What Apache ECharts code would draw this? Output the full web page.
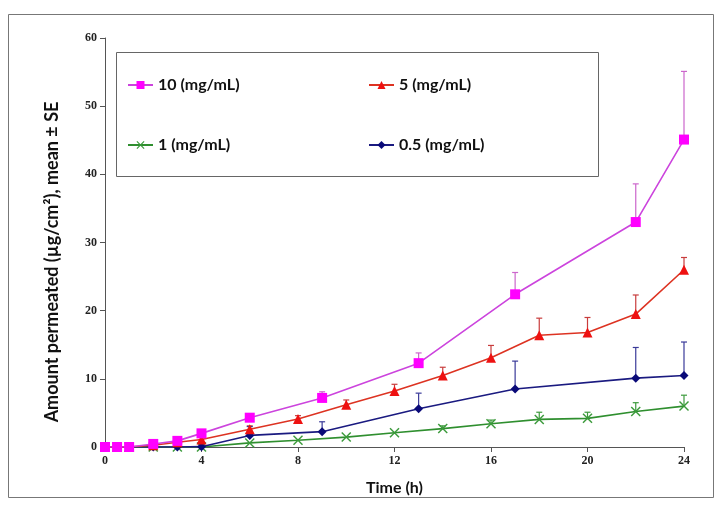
<!DOCTYPE html>
<html><head><meta charset="utf-8">
<script src="https://cdn.jsdelivr.net/npm/echarts@6/dist/echarts.min.js"></script>
<style>html,body{margin:0;padding:0;background:#fff}#c{width:719px;height:509px}</style>
</head><body><div id="c"></div>
<script>
// ---- data ----
const xA = [0, 0.5, 1, 2, 3, 4, 6, 9, 13, 17, 22, 24];
const xB = [0, 0.5, 1, 2, 3, 4, 6, 8, 10, 12, 14, 16, 18, 20, 22, 24];
const y10 = [0, 0, 0, 0.45, 0.9, 2.0, 4.3, 7.2, 12.3, 22.4, 33.0, 45.1];
const e10 = [null, null, null, null, null, null, 4.8, 8.1, 13.8, 25.6, 38.6, 55.1];
const y5 = [0, 0, 0, 0.25, 0.7, 1.1, 2.6, 4.1, 6.2, 8.2, 10.5, 13.1, 16.4, 16.8, 19.5, 26.0];
const e5 = [null, null, null, null, null, null, 3.1, 4.6, 6.9, 9.2, 11.7, 14.9, 18.9, 19.0, 22.3, 27.8];
const y1 = [0, 0, 0, 0, 0, 0, 0.6, 1.0, 1.45, 2.1, 2.7, 3.4, 4.05, 4.2, 5.2, 6.0];
const e1 = [null, null, null, null, null, null, null, null, null, null, 3.1, 3.95, 5.1, 5.1, 6.5, 7.6];
const y05 = [0, 0, 0, 0, 0, 0.05, 1.7, 2.25, 5.6, 8.5, 10.1, 10.5];
const e05 = [null, null, null, null, null, null, 3.0, 3.7, 7.9, 12.6, 14.6, 15.4];
const names = ['10 (mg/mL)', '5 (mg/mL)', '1 (mg/mL)', '0.5 (mg/mL)'];
const xTicks = [0, 4, 8, 12, 16, 20, 24];
const yTicks = [0, 10, 20, 30, 40, 50, 60];
const xTitle = 'Time (h)';
const yTitle = 'Amount permeated (µg/cm²), mean ± SE';

const pairs = (xs, ys) => xs.map((x, i) => [x, ys[i]]);
const errs = (xs, ys, es) => xs.map((x, i) => es[i] == null ? null : [x, ys[i], es[i]]).filter(d => d);

function errSeries(data, color) {
  return {
    type: 'custom', silent: true, z: 1,
    data: data,
    renderItem: function (params, api) {
      const p0 = api.coord([api.value(0), api.value(1)]);
      const p1 = api.coord([api.value(0), api.value(2)]);
      return {
        type: 'group', children: [
          { type: 'line', shape: { x1: p0[0], y1: p0[1], x2: p1[0], y2: p1[1] }, style: { stroke: color, lineWidth: 1.2 } },
          { type: 'line', shape: { x1: p1[0] - 3, y1: p1[1], x2: p1[0] + 3, y2: p1[1] }, style: { stroke: color, lineWidth: 1.2 } }
        ]
      };
    }
  };
}

const crossPath = 'path://M0,1L1,0L5,4L9,0L10,1L6,5L10,9L9,10L5,6L1,10L0,9L4,5Z';

const chart = echarts.init(document.getElementById('c'), null, { renderer: 'canvas' });
const tickFont = { fontFamily: 'Liberation Serif', fontWeight: 'bold', fontSize: 12, color: '#222' };
const legendText = { fontFamily: 'Lato', fontWeight: 'bold', fontSize: 16, color: '#111' };

chart.setOption({
  animation: false,
  backgroundColor: '#fff',
  graphic: [
    { type: 'rect', shape: { x: 8.5, y: 14.5, width: 705, height: 483 }, style: { fill: 'none', stroke: '#777', lineWidth: 1 }, z: -1 },
    { type: 'rect', shape: { x: 116.5, y: 52.5, width: 482, height: 124 }, style: { fill: '#fff', stroke: '#666', lineWidth: 1 }, z: 0 },
    { type: 'text', x: 52, y: 262, rotation: Math.PI / 2, z: 5,
      style: { text: yTitle, fontFamily: 'Lato', fontWeight: 'bold', fontSize: 18, fill: '#111', align: 'center', verticalAlign: 'middle' } }
  ],
  grid: { left: 105, right: 35, top: 38, bottom: 62 },
  legend: [
    { data: [names[0], names[2]], orient: 'vertical', left: 122, top: 72, itemGap: 44, itemWidth: 25, itemHeight: 10, textStyle: legendText, z: 10 },
    { data: [names[1], names[3]], orient: 'vertical', left: 363, top: 72, itemGap: 44, itemWidth: 25, itemHeight: 10, textStyle: legendText, z: 10 }
  ],
  xAxis: {
    type: 'value', min: 0, max: 24, interval: 4,
    name: xTitle, nameLocation: 'middle', nameGap: 33,
    nameTextStyle: { fontFamily: 'Lato', fontWeight: 'bold', fontSize: 16, color: '#111' },
    axisLine: { lineStyle: { color: '#555', width: 1 } },
    axisTick: { show: true, length: 5, lineStyle: { color: '#555' } },
    splitLine: { show: false },
    axisLabel: Object.assign({ margin: 8, formatter: v => xTicks.includes(v) ? String(v) : '' }, tickFont)
  },
  yAxis: {
    type: 'value', min: 0, max: 60, interval: 10,
    axisLine: { show: true, lineStyle: { color: '#555', width: 1 } },
    axisTick: { show: true, length: 5, lineStyle: { color: '#555' } },
    splitLine: { show: false },
    axisLabel: Object.assign({ margin: 8, formatter: v => yTicks.includes(v) ? String(v) : '' }, tickFont)
  },
  series: [
    errSeries(errs(xA, y10, e10), '#cc66cc'),
    errSeries(errs(xB, y5, e5), '#c83c3c'),
    errSeries(errs(xB, y1, e1), '#3d9a3d'),
    errSeries(errs(xA, y05, e05), '#3a3a99'),
    { name: names[2], type: 'line', data: pairs(xB, y1), symbol: crossPath, symbolSize: 10, z: 3,
      lineStyle: { color: '#2f8f2f', width: 1.6 }, itemStyle: { color: '#3a9a3a' } },
    { name: names[3], type: 'line', data: pairs(xA, y05), symbol: 'diamond', symbolSize: 9, z: 4,
      lineStyle: { color: '#1a1a80', width: 1.6 }, itemStyle: { color: '#0a0a78' } },
    { name: names[1], type: 'line', data: pairs(xB, y5), symbol: 'triangle', symbolSize: 10, z: 5,
      lineStyle: { color: '#dd3322', width: 1.6 }, itemStyle: { color: '#ee1111' } },
    { name: names[0], type: 'line', data: pairs(xA, y10), symbol: 'rect', symbolSize: 10, z: 6,
      lineStyle: { color: '#cc44dd', width: 1.6 }, itemStyle: { color: '#ff00ff' } }
  ]
});
</script></body></html>
